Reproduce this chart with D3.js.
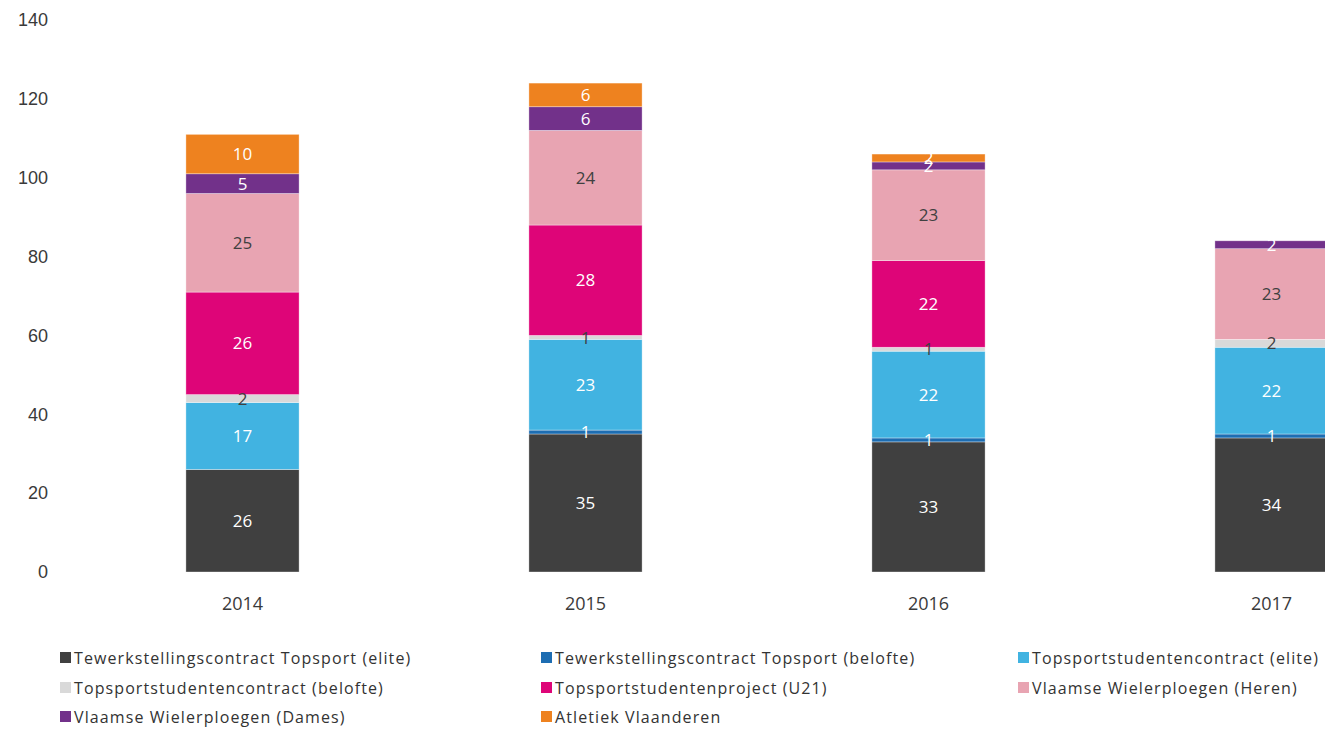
<!DOCTYPE html>
<meta charset="utf-8">
<style>
body {
  margin: 0;
  background: #fff;
  font-family: "Open Sans", "Noto Sans", sans-serif;
}
.tick text, .year {
  fill: #3a3a3a;
  font-size: 18px;
}
.val {
  font-size: 17px;
}
.legend text {
  fill: #333;
  font-size: 16px;
  letter-spacing: 1.1px;
}
</style>
<body>
<script src="https://cdn.jsdelivr.net/npm/d3@7"></script>
<script>

var width = 1325,
    height = 732;

var years = ["2014", "2015", "2016", "2017"];

var series = [
  "Tewerkstellingscontract Topsport (elite)",
  "Tewerkstellingscontract Topsport  (belofte)",
  "Topsportstudentencontract (elite)",
  "Topsportstudentencontract (belofte)",
  "Topsportstudentenproject (U21)",
  "Vlaamse Wielerploegen (Heren)",
  "Vlaamse Wielerploegen (Dames)",
  "Atletiek Vlaanderen"
];

var colors = ["#404040", "#1d6db2", "#41b3e1", "#d9d9d9", "#de0578", "#e8a4b2", "#72318a", "#ee821f"];
var labelColors = ["#fff", "#fff", "#fff", "#404040", "#fff", "#404040", "#fff", "#fff"];

// one array per series, values for 2014..2017
var tcElite    = [26, 35, 33, 34];
var tcBelofte  = [0, 1, 1, 1];
var tsElite    = [17, 23, 22, 22];
var tsBelofte  = [2, 1, 1, 2];
var tsU21      = [26, 28, 22, 0];
var wielHeren  = [25, 24, 23, 23];
var wielDames  = [5, 6, 2, 2];
var atletiek   = [10, 6, 2, 0];

var values = [tcElite, tcBelofte, tsElite, tsBelofte, tsU21, wielHeren, wielDames, atletiek];

var yTicks = [0, 20, 40, 60, 80, 100, 120, 140];

var rows = years.map(function(y, i) {
  var r = {year: y};
  series.forEach(function(s, j) { r[s] = values[j][i]; });
  return r;
});

var stack = d3.stack().keys(series)(rows);

var x = d3.scaleBand()
    .domain(years)
    .range([71, 1443])
    .paddingInner(0.67)
    .paddingOuter(0.335);

var y = d3.scaleLinear()
    .domain([0, 140])
    .range([572, 20]);

var svg = d3.select("body").append("svg")
    .attr("width", width)
    .attr("height", height);

// y axis, labels only
var yAxis = svg.append("g")
    .attr("transform", "translate(48,0)")
    .call(d3.axisLeft(y).tickValues(yTicks).tickSize(0).tickPadding(0));
yAxis.select(".domain").remove();
yAxis.selectAll("text").attr("font-family", null).attr("font-size", null);

var layers = svg.selectAll(".layer")
    .data(stack)
  .enter().append("g")
    .attr("class", "layer")
    .attr("fill", function(d, i) { return colors[i]; });

layers.selectAll("rect")
    .data(function(d) { return d; })
  .enter().filter(function(d) { return d[1] - d[0] > 0; }).append("rect")
    .attr("x", function(d) { return x(d.data.year); })
    .attr("y", function(d) { return y(d[1]); })
    .attr("width", x.bandwidth())
    .attr("height", function(d) { return y(d[0]) - y(d[1]); })
    .attr("stroke", "#fff")
    .attr("stroke-opacity", 0.5)
    .attr("stroke-width", 0.7);

// value labels on top of all bars
var labels = svg.append("g");
stack.forEach(function(s, i) {
  labels.selectAll(".val-" + i)
      .data(s.filter(function(d) { return d[1] - d[0] > 0; }))
    .enter().append("text")
      .attr("class", "val val-" + i)
      .attr("x", function(d) { return x(d.data.year) + x.bandwidth() / 2; })
      .attr("y", function(d) { return (y(d[0]) + y(d[1])) / 2; })
      .attr("dy", "0.36em")
      .attr("text-anchor", "middle")
      .attr("fill", labelColors[i])
      .text(function(d) { return d[1] - d[0]; });
});

// x labels
svg.selectAll(".year")
    .data(years)
  .enter().append("text")
    .attr("class", "year")
    .attr("x", function(d) { return x(d) + x.bandwidth() / 2; })
    .attr("y", 610)
    .attr("text-anchor", "middle")
    .text(function(d) { return d; });

// legend, 3 columns
var colX = [60, 541, 1018],
    rowY = [658, 688, 717];

var legend = svg.append("g").attr("class", "legend")
  .selectAll("g")
    .data(series)
  .enter().append("g")
    .attr("transform", function(d, i) {
      return "translate(" + colX[i % 3] + "," + rowY[Math.floor(i / 3)] + ")";
    });

legend.append("rect")
    .attr("x", 0)
    .attr("y", -6)
    .attr("width", 11)
    .attr("height", 11)
    .attr("fill", function(d, i) { return colors[i]; });

legend.append("text")
    .attr("x", 14)
    .attr("y", 0)
    .attr("dy", "0.35em")
    .text(function(d) { return d; });

</script>
